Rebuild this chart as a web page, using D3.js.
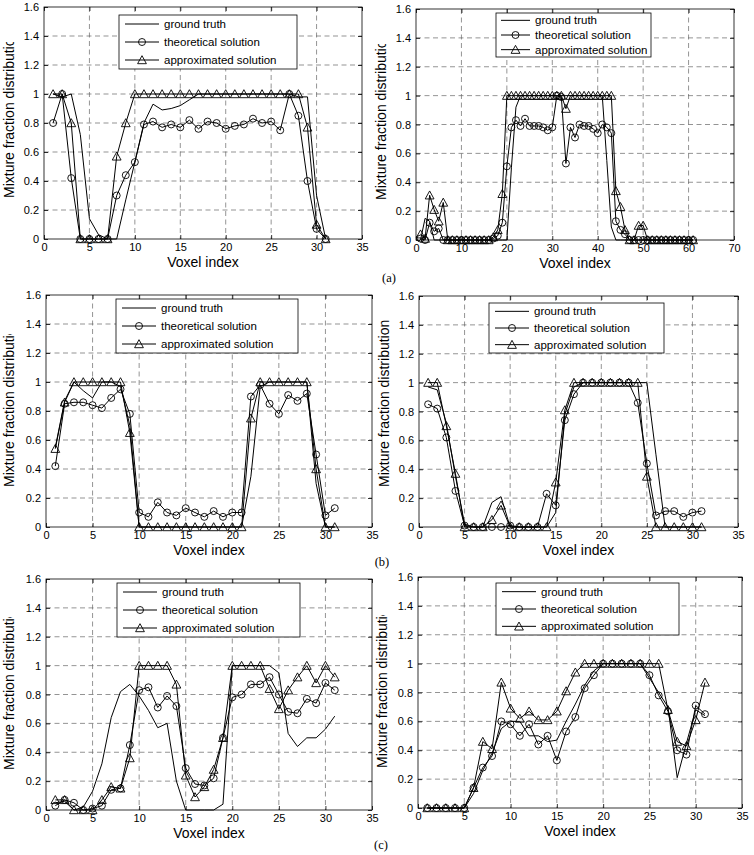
<!DOCTYPE html>
<html>
<head>
<meta charset="utf-8">
<script src="https://cdn.jsdelivr.net/npm/d3@7"></script>
<style>
  html, body { margin: 0; padding: 0; background: #fff; }
  svg { display: block; }
  text { font-family: "Liberation Sans", Arial, sans-serif; fill: #000; }
</style>
</head>
<body>
<svg id="chart" width="754" height="855"></svg>
<script>
// ---------------- DATA ----------------
const seriesNames = ["ground truth", "theoretical solution", "approximated solution"];
const xTicks35 = [0, 5, 10, 15, 20, 25, 30, 35];
const xTicks70 = [0, 10, 20, 30, 40, 50, 60, 70];
const yTicks = [0, 0.2, 0.4, 0.6, 0.8, 1, 1.2, 1.4, 1.6];
const yTickLabels = ["0", "0.2", "0.4", "0.6", "0.8", "1", "1.2", "1.4", "1.6"];
const xLabel = "Voxel index";
const yLabel = "Mixture fraction distribution";
const panelTags = ["(a)", "(b)", "(c)"];

const voxel31 = [1,2,3,4,5,6,7,8,9,10,11,12,13,14,15,16,17,18,19,20,21,22,23,24,25,26,27,28,29,30,31];
const voxel61 = [1,2,3,4,5,6,7,8,9,10,11,12,13,14,15,16,17,18,19,20,21,22,23,24,25,26,27,28,29,30,
                 31,32,33,34,35,36,37,38,39,40,41,42,43,44,45,46,47,48,49,50,51,52,53,54,55,56,57,58,59,60,61];

// (a) left
const gtA1 = [1,0.98,1,0.72,0.14,0.03,0,0,0.27,0.53, 0.8,0.93,0.89,0.9,0.92,0.96,1,1,1,1, 1,1,1,1,1,1,1,0.98,0.98,0.3, 0];
const thA1 = [0.8,1,0.42,0,0,0,0,0.3,0.44,0.53, 0.79,0.81,0.77,0.79,0.77,0.82,0.76,0.81,0.8,0.76, 0.78,0.79,0.83,0.8,0.81,0.75,1,0.85,0.4,0.07, 0];
const apA1 = [1,1,0.8,0,0,0,0,0.57,0.8,1, 1,1,1,1,1,1,1,1,1,1, 1,1,1,1,1,1,1,1,0.77,0.1, 0];
// (a) right
const gtA2 = [0,0.15,0.13,0,0,0,0,0,0,0, 0,0,0,0,0,0,0,0,0,0, 0.5,0.92,1,1,1,1,1,1,1,1, 1,1,1,1,1,1,1,1,1,1, 1,0.55,0.09,0,0,0,0,0,0,0, 0,0,0,0,0,0,0,0,0,0, 0];
const thA2 = [0.01,0,0.12,0.06,0.08,0,0,0,0,0, 0,0,0,0,0,0,0.01,0.03,0.12,0.51, 0.78,0.83,0.79,0.84,0.79,0.79,0.79,0.78,0.76,0.78, 1,0.99,0.53,0.78,0.71,0.8,0.79,0.79,0.77,0.74, 0.8,0.78,0.74,0.13,0.07,0.04,0,0,0,0, 0,0,0,0,0,0,0,0,0,0, 0];
const apA2 = [0.04,0.01,0.31,0.21,0.13,0.26,0,0,0,0, 0,0,0,0,0,0,0.02,0.07,0.32,1, 1,1,1,1,1,1,1,1,1,1, 1,1,0.91,1,1,1,1,1,1,1, 1,1,1,0.34,0.23,0.07,0,0,0.1,0.1, 0,0,0,0,0,0,0,0,0,0, 0];
// (b) left
const gtB1 = [0.55,0.87,1,0.94,0.89,1,1,0.97,0.7,0, 0,0,0,0,0,0,0,0,0,0, 0,0.35,0.97,1,1,1,1,1,0.3,0, 0];
const thB1 = [0.42,0.85,0.86,0.86,0.84,0.82,0.89,0.95,0.78,0.1, 0.07,0.17,0.1,0.08,0.13,0.1,0.07,0.11,0.07,0.1, 0.1,0.9,0.98,0.85,0.78,0.91,0.87,0.92,0.5,0.08, 0.13];
const apB1 = [0.54,0.86,1,1,1,1,1,1,0.65,0, 0,0,0,0,0,0,0,0,0,0, 0,0.75,1,1,1,1,1,1,0.4,0, 0];
// (b) right
const gtB2 = [0.97,0.95,0.72,0.35,0.02,0,0,0.17,0.21,0, 0,0,0,0,0.1,0.78,0.97,1,1,1, 1,1,1,1,1,0.5,0,0,0,0, 0];
const thB2 = [0.85,0.82,0.62,0.25,0.01,0,0,0,0,0.01, 0,0,0,0.23,0.15,0.74,0.92,1,1,1, 1,1,1,0.86,0.44,0.08,0.11,0.11,0.07,0.1, 0.11];
const apB2 = [1,1,0.7,0.37,0,0,0,0.05,0.15,0, 0,0,0,0,0.31,0.81,1,1,1,1, 1,1,1,1,0.35,0,0,0,0,0, 0];
// (c) left
const gtC1 = [0.05,0.06,0,0.02,0.13,0.32,0.64,0.82,0.87,0.79, 0.69,0.57,0.6,0.2,0,0,0,0,0.04,1, 1,1,1,1,0.95,0.53,0.44,0.5,0.5,0.56, 0.65];
const thC1 = [0.03,0.07,0.05,0,0.01,0.03,0.14,0.15,0.45,0.83, 0.85,0.71,0.79,0.72,0.29,0.18,0.17,0.22,0.5,0.78, 0.8,0.87,0.87,0.92,0.8,0.68,0.67,0.77,0.74,0.88, 0.83];
const apC1 = [0.07,0.07,0,0,0,0.07,0.16,0.15,0.36,1, 1,1,1,0.87,0.24,0.09,0.16,0.28,0.5,1, 1,1,1,0.84,0.7,0.83,0.92,1,0.88,1, 0.92];
// (c) right
const gtC2 = [0,0,0,0,0,0.1,0.26,0.38,0.55,0.6, 0.6,0.5,0.5,0.46,0.47,0.6,0.72,0.85,0.95,1, 1,1,1,1,0.9,0.8,0.7,0.21,0.45,0.68, 0.64];
const thC2 = [0,0,0,0,0,0.14,0.28,0.36,0.6,0.58, 0.5,0.58,0.44,0.5,0.33,0.53,0.63,0.83,0.92,1, 1,1,1,1,0.92,0.78,0.67,0.4,0.37,0.71, 0.65];
const apC2 = [0,0,0,0,0,0.14,0.46,0.41,0.87,0.69, 0.62,0.67,0.61,0.61,0.67,0.81,0.94,1,1,1, 1,1,1,1,1,1,0.68,0.46,0.43,0.61, 0.87];

// ---------------- LAYOUT ----------------
const panels = [
  { x: voxel31, s: [gtA1, thA1, apA1], xmax: 35, xt: xTicks35, l: 44, r: 362, t: 7, b: 239,
    leg: [119, 15, 178, 54], ylx: 14, yly: 198, clipTop: 42 },
  { x: voxel61, s: [gtA2, thA2, apA2], xmax: 70, xt: xTicks70, l: 416, r: 734, t: 9, b: 240,
    leg: [496, 13, 155, 44], ylx: 386, yly: 200, clipTop: 44, compact: true },
  { x: voxel31, s: [gtB1, thB1, apB1], xmax: 35, xt: xTicks35, l: 46, r: 372, t: 295, b: 527,
    leg: [116, 299, 182, 54], ylx: 14, yly: 487, clipTop: 334 },
  { x: voxel31, s: [gtB2, thB2, apB2], xmax: 35, xt: xTicks35, l: 419, r: 738, t: 296, b: 527,
    leg: [489, 303, 175, 50], ylx: 389, yly: 487, clipTop: 0 },
  { x: voxel31, s: [gtC1, thC1, apC1], xmax: 35, xt: xTicks35, l: 46, r: 372, t: 579, b: 810,
    leg: [117, 583, 183, 54], ylx: 14, yly: 770, clipTop: 617 },
  { x: voxel31, s: [gtC2, thC2, apC2], xmax: 35, xt: xTicks35, l: 418, r: 742, t: 577, b: 808,
    leg: [496, 583, 183, 52], ylx: 387, yly: 768, clipTop: 615 }
];
const tagPos = [[389, 282], [382, 566], [381, 849]];

const svg = d3.select("#chart");
svg.append("rect").attr("width", 754).attr("height", 855).attr("fill", "#fff");
const defs = svg.append("defs");

const triPath = "M0,-4.3L4.4,3.7L-4.4,3.7Z";

function drawMarker(g, kind, cx, cy) {
  if (kind === 1) {
    g.append("circle").attr("cx", cx).attr("cy", cy).attr("r", 3.5)
      .attr("fill", "none").attr("stroke", "#000").attr("stroke-width", 0.9);
  } else if (kind === 2) {
    g.append("path").attr("d", triPath).attr("transform", `translate(${cx},${cy})`)
      .attr("fill", "none").attr("stroke", "#000").attr("stroke-width", 0.9);
  }
}

panels.forEach((p, pi) => {
  const g = svg.append("g");
  const x = d3.scaleLinear().domain([0, p.xmax]).range([p.l, p.r]);
  const y = d3.scaleLinear().domain([0, 1.6]).range([p.b, p.t]);

  // grid
  const grid = g.append("g").attr("stroke", "#666").attr("stroke-width", 0.7)
    .attr("stroke-dasharray", "5,3.5");
  grid.selectAll("line.v").data(p.xt.slice(1, -1)).join("line").attr("class", "v")
    .attr("x1", d => x(d)).attr("x2", d => x(d)).attr("y1", p.t).attr("y2", p.b);
  grid.selectAll("line.h").data(yTicks.slice(1, -1)).join("line").attr("class", "h")
    .attr("x1", p.l).attr("x2", p.r).attr("y1", d => y(d)).attr("y2", d => y(d));

  // axes
  const fs = "11px";
  g.append("g").attr("transform", `translate(0,${p.b})`)
    .call(d3.axisBottom(x).tickValues(p.xt).tickSize(-4).tickPadding(4).tickFormat(d3.format("d")))
    .call(a => a.select(".domain").remove())
    .call(a => a.selectAll("text").style("font-size", fs).style("font-family", "'Liberation Sans', Arial"))
    .call(a => a.selectAll("line").attr("stroke", "#000").attr("stroke-width", 0.8));
  g.append("g").attr("transform", `translate(0,${p.t})`)
    .call(d3.axisTop(x).tickValues(p.xt).tickSize(-4).tickFormat(""))
    .call(a => a.select(".domain").remove())
    .call(a => a.selectAll("line").attr("stroke", "#000").attr("stroke-width", 0.8));
  g.append("g").attr("transform", `translate(${p.l},0)`)
    .call(d3.axisLeft(y).tickValues(yTicks).tickSize(-4).tickPadding(5)
      .tickFormat((d, i) => yTickLabels[i]))
    .call(a => a.select(".domain").remove())
    .call(a => a.selectAll("text").style("font-size", fs).style("font-family", "'Liberation Sans', Arial"))
    .call(a => a.selectAll("line").attr("stroke", "#000").attr("stroke-width", 0.8));
  g.append("g").attr("transform", `translate(${p.r},0)`)
    .call(d3.axisRight(y).tickValues(yTicks).tickSize(-4).tickFormat(""))
    .call(a => a.select(".domain").remove())
    .call(a => a.selectAll("line").attr("stroke", "#000").attr("stroke-width", 0.8));

  // box
  g.append("rect").attr("x", p.l).attr("y", p.t).attr("width", p.r - p.l).attr("height", p.b - p.t)
    .attr("fill", "none").attr("stroke", "#000").attr("stroke-width", 0.8);

  // series
  const line = d3.line().x(d => x(d[0])).y(d => y(d[1]));
  p.s.forEach((vals, si) => {
    const pts = p.x.map((xv, i) => [xv, vals[i]]);
    g.append("path").attr("d", line(pts)).attr("fill", "none").attr("stroke", "#000")
      .attr("stroke-width", 1).attr("stroke-linejoin", "round");
    if (si > 0) {
      const mg = g.append("g");
      pts.forEach(pt => drawMarker(mg, si, x(pt[0]), y(pt[1])));
    }
  });

  // legend
  const [lx, ly, lw, lh] = p.leg;
  const lg = g.append("g");
  lg.append("rect").attr("x", lx).attr("y", ly).attr("width", lw).attr("height", lh)
    .attr("fill", "#fff").attr("stroke", "#000").attr("stroke-width", 0.8);
  const rowH = lh / 3;
  seriesNames.forEach((name, si) => {
    const cy = ly + rowH * (si + 0.5);
    const x1 = lx + (p.compact ? 5 : 6), x2 = lx + (p.compact ? 34 : 40);
    lg.append("line").attr("x1", x1).attr("x2", x2).attr("y1", cy).attr("y2", cy)
      .attr("stroke", "#000").attr("stroke-width", 1);
    drawMarker(lg, si, (x1 + x2) / 2, cy);
    lg.append("text").attr("x", x2 + 5).attr("y", cy).attr("dy", "0.35em")
      .style("font-size", "11.5px").text(name);
  });

  // axis labels
  g.append("text").attr("x", (p.l + p.r) / 2).attr("y", p.b + 28).attr("text-anchor", "middle")
    .style("font-size", "14px").text(xLabel);
  const clipId = "yclip" + pi;
  defs.append("clipPath").attr("id", clipId).append("rect")
    .attr("x", p.ylx - 20).attr("y", p.clipTop).attr("width", 30).attr("height", 855 - p.clipTop);
  g.append("g").attr("clip-path", `url(#${clipId})`)
    .append("text").attr("transform", `translate(${p.ylx},${p.yly}) rotate(-90)`)
    .style("font-size", "14px").text(yLabel);
});

// panel tags
panelTags.forEach((t, i) => {
  svg.append("text").attr("x", tagPos[i][0]).attr("y", tagPos[i][1]).attr("text-anchor", "middle")
    .style("font-family", "'Liberation Serif', 'Times New Roman', serif").style("font-size", "12.5px").text(t);
});
</script>
</body>
</html>
